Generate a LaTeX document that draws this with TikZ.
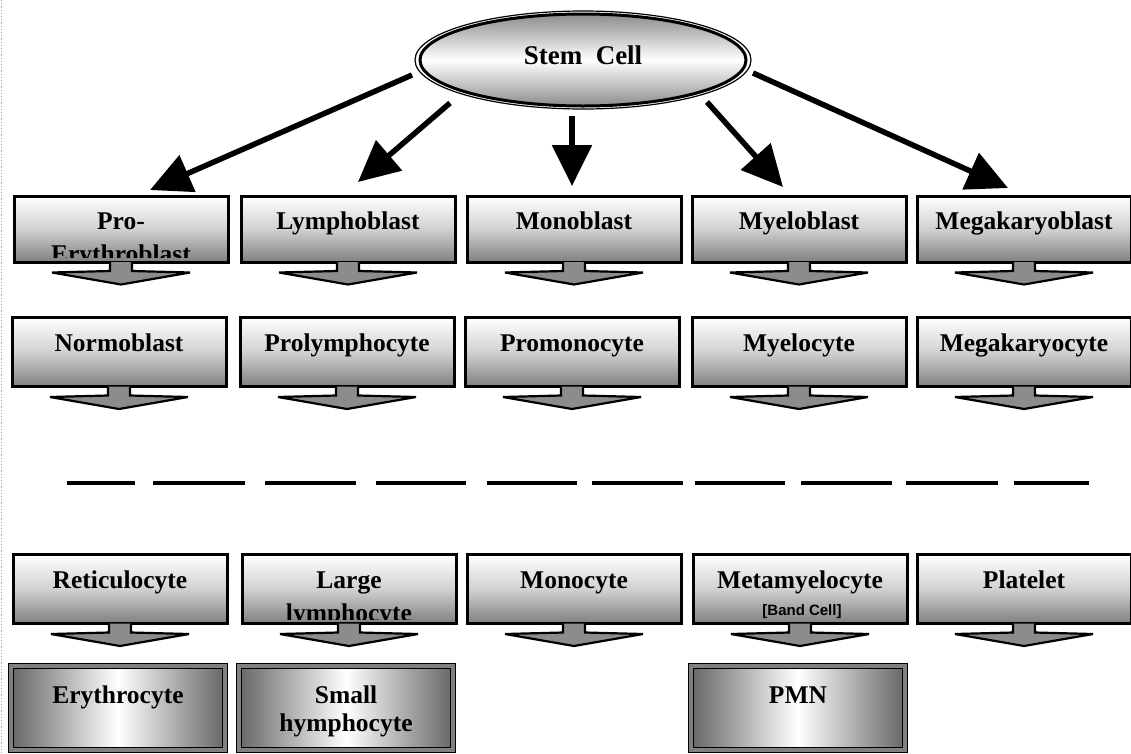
\documentclass[tikz,border=0pt]{standalone}
\usepackage{fontspec}
\setmainfont{Liberation Serif}
\setsansfont{Liberation Sans}
\usetikzlibrary{arrows.meta,calc,shapes.geometric}
\newcommand\blockarr[1]{\draw[blkarrow] ($(#1.south)+(-11,0)$) -- ++(0,9) -- ++(-58,1.5) -- ++(69,12) -- ++(69,-12) -- ++(-58,-1.5) -- ++(0,-9);}
\begin{document}
\begin{tikzpicture}[x=1pt,y=-1pt,
  cellbox/.style={draw=black, line width=3pt, top color=white, bottom color=black!50, middle color=black!18,
    minimum width=214pt, minimum height=66pt, inner sep=0pt, outer sep=0pt},
  tallbox/.style={cellbox, minimum height=69pt},
  endbox/.style={draw=black, line width=1.1pt, double=black!50, double distance=4pt,
    left color=black!60, right color=black!60, middle color=white,
    minimum width=214pt, minimum height=84pt, inner sep=0pt, outer sep=0pt},
  stemshape/.style={ellipse, draw=black, line width=3pt, top color=black!45, bottom color=black!45, middle color=white,
    minimum width=326pt, minimum height=92pt, inner sep=0pt},
  lbl/.style={font=\bfseries\fontsize{25.5}{29}\selectfont, inner sep=0pt, anchor=base},
  smalllbl/.style={font=\sffamily\bfseries\fontsize{15}{17}\selectfont, inner sep=0pt, anchor=base},
  bigarrow/.style={line width=5.5pt, -{Triangle[length=41pt,width=39pt]}},
  blkarrow/.style={draw=black, line width=2.2pt, fill=black!45, line join=miter},
  dashseg/.style={line width=4.5pt, black}]
\useasboundingbox (0,0) rectangle (1131,753);
\fill[white] (0,0) rectangle (1131,753);
\draw[black!35, dotted, line width=1.2pt] (1.5,0) -- (1.5,753);

% stem cell
\node[stemshape] (stem) at (583,60) {};
\draw[line width=1.2pt] (stem.center) ellipse [x radius=168, y radius=49];
\node[lbl, font=\bfseries\fontsize{27}{30}\selectfont] (stemlbl) at ($(stem.center)+(0,4)$) {Stem\hspace{0.5em}Cell};

% row 1
\node[cellbox] (b11) at (121,229) {};
\node[cellbox] (b12) at (348,229) {};
\node[cellbox] (b13) at (574,229) {};
\node[cellbox] (b14) at (799,229) {};
\node[cellbox] (b15) at (1024,229) {};
\begin{scope}
\clip ($(b11.north west)+(1.5,1.5)$) rectangle ($(b11.south east)+(-1.5,-4.5)$);
\node[lbl] (t11a) at ($(b11.north)+(0,33)$) {Pro-};
\node[lbl] (t11b) at ($(b11.north)+(0,66)$) {Erythroblast};
\end{scope}
\node[lbl] (t12) at ($(b12.north)+(0,33)$) {Lymphoblast};
\node[lbl] (t13) at ($(b13.north)+(0,33)$) {Monoblast};
\node[lbl] (t14) at ($(b14.north)+(0,33)$) {Myeloblast};
\node[lbl] (t15) at ($(b15.north)+(0,33)$) {Megakaryoblast};

% row 2
\node[tallbox] (b21) at (119,352) {};
\node[tallbox] (b22) at (347,352) {};
\node[tallbox] (b23) at (572,352) {};
\node[tallbox] (b24) at (799,352) {};
\node[tallbox] (b25) at (1024,352) {};
\node[lbl] (t21) at ($(b21.north)+(0,34)$) {Normoblast};
\node[lbl] (t22) at ($(b22.north)+(0,34)$) {Prolymphocyte};
\node[lbl] (t23) at ($(b23.north)+(0,34)$) {Promonocyte};
\node[lbl] (t24) at ($(b24.north)+(0,34)$) {Myelocyte};
\node[lbl] (t25) at ($(b25.north)+(0,34)$) {Megakaryocyte};

% dashed separator
\foreach \a/\b in {67/135,153/245,265/356,376/466,487/577,592/683,695/785,801/892,906/998,1014/1089}
  \draw[dashseg] (\a,483) -- (\b,483);

% row 4
\node[tallbox] (b41) at (120,589) {};
\node[tallbox] (b42) at (349,589) {};
\node[tallbox] (b43) at (574,589) {};
\node[tallbox] (b44) at (800,589) {};
\node[tallbox] (b45) at (1024,589) {};
\node[lbl] (t41) at ($(b41.north)+(0,34)$) {Reticulocyte};
\begin{scope}
\clip ($(b42.north west)+(1.5,1.5)$) rectangle ($(b42.south east)+(-1.5,-4.5)$);
\node[lbl] (t42a) at ($(b42.north)+(0,34)$) {Large};
\node[lbl] (t42b) at ($(b42.north)+(0,67)$) {lymphocyte};
\end{scope}
\node[lbl] (t43) at ($(b43.north)+(0,34)$) {Monocyte};
\begin{scope}
\clip ($(b44.north west)+(1.5,1.5)$) rectangle ($(b44.south east)+(-1.5,-3.5)$);
\node[lbl] (t44a) at ($(b44.north)+(0,34)$) {Metamyelocyte};
\node[smalllbl] (t44b) at ($(b44.north)+(2,61)$) {[Band Cell]};
\end{scope}
\node[lbl] (t45) at ($(b45.north)+(0,34)$) {Platelet};

% row 5
\node[endbox] (b51) at (118,708) {};
\node[endbox] (b52) at (346,708) {};
\node[endbox] (b54) at (798,708) {};
\node[lbl] (t51) at ($(b51.north)+(0,37)$) {Erythrocyte};
\node[lbl] (t52a) at ($(b52.north)+(0,37)$) {Small};
\node[lbl] (t52b) at ($(b52.north)+(0,65)$) {hymphocyte};
\node[lbl] (t54) at ($(b54.north)+(0,37)$) {PMN};

% block arrows
\foreach \n in {b11,b12,b13,b14,b15,b21,b22,b23,b24,b25,b41,b42,b43,b44,b45} {\blockarr{\n}}

% arrows from stem cell
\draw[bigarrow] ($(stem.center)+(-171,15)$) -- ($(b11.north)+(29,-6)$);
\draw[bigarrow] ($(stem.center)+(-133,43)$) -- ($(b12.north)+(10,-14)$);
\draw[bigarrow] ($(stem.center)+(-11,56)$) -- ($(b13.north)+(-2,-10)$);
\draw[bigarrow] ($(stem.center)+(124,42)$) -- ($(b14.north)+(-16,-9)$);
\draw[bigarrow] ($(stem.center)+(170,13)$) -- ($(b15.north)+(-16,-8)$);
\end{tikzpicture}
\end{document}
